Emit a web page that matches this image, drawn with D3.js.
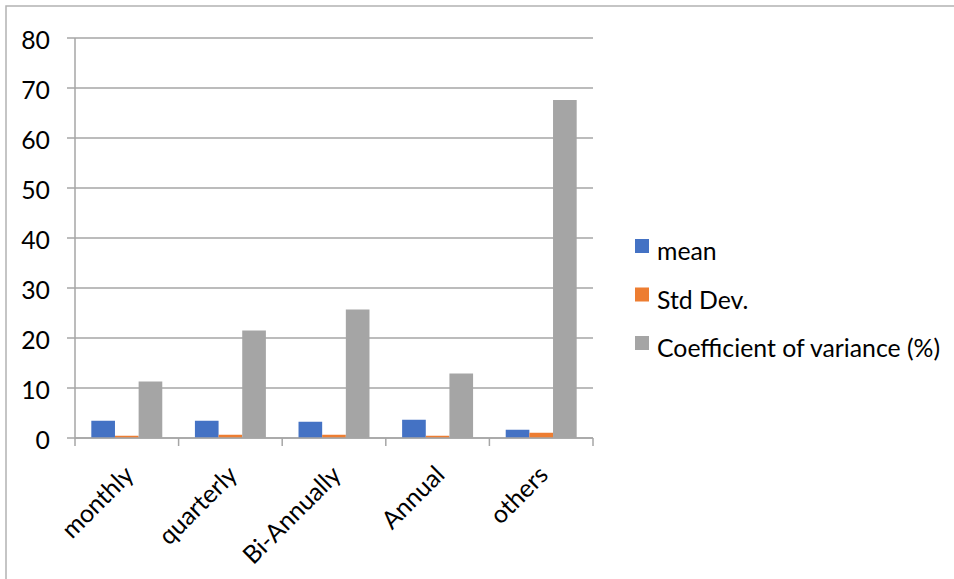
<!DOCTYPE html>
<html>
<head>
<meta charset="utf-8">
<script src="https://cdn.jsdelivr.net/npm/d3@7"></script>
<style>
  html, body { margin: 0; padding: 0; background: #fff; }
  svg { display: block; }
  text { font-family: Lato, "Open Sans", sans-serif; fill: #000; }
</style>
</head>
<body>
<svg id="chart" width="954" height="579"></svg>
<script>
const categories = ["monthly", "quarterly", "Bi-Annually", "Annual", "others"];
const seriesNames = ["mean", "Std Dev.", "Coefficient of variance (%)"];
const meanValues = [3.45, 3.45, 3.25, 3.65, 1.65];
const stdDevValues = [0.45, 0.65, 0.65, 0.45, 1.05];
const covValues = [11.3, 21.5, 25.7, 12.9, 67.6];
const colors = ["#4472C4", "#ED7D31", "#A5A5A5"];
const yTicks = [0, 10, 20, 30, 40, 50, 60, 70, 80];

const seriesValues = [meanValues, stdDevValues, covValues];

const svg = d3.select("#chart");
const W = 954, H = 579;
const plot = { left: 75, right: 593, top: 38, bottom: 438 };
const fontSize = 24.8;

// Chart frame
svg.append("rect")
  .attr("x", 6).attr("y", 6)
  .attr("width", W + 20).attr("height", H + 20)
  .attr("fill", "#fff")
  .attr("stroke", "#b3b3b3")
  .attr("stroke-width", 1.5);

const x = d3.scaleBand().domain(categories).range([plot.left, plot.right]);
const y = d3.scaleLinear().domain([0, 80]).range([plot.bottom, plot.top]);

// Horizontal gridlines with tick stubs to the left of the axis
svg.append("g").selectAll("line").data(yTicks).join("line")
  .attr("x1", plot.left - 8).attr("x2", plot.right)
  .attr("y1", d => y(d)).attr("y2", d => y(d))
  .attr("stroke", "#a6a6a6").attr("stroke-width", 1.5);

// Y axis line
svg.append("line")
  .attr("x1", plot.left).attr("x2", plot.left)
  .attr("y1", plot.top).attr("y2", plot.bottom)
  .attr("stroke", "#a6a6a6").attr("stroke-width", 1.5);

// Y tick labels
svg.append("g").selectAll("text").data(yTicks).join("text")
  .attr("x", 50).attr("y", d => y(d) + 5)
  .attr("text-anchor", "end")
  .attr("dominant-baseline", "middle")
  .attr("font-size", fontSize)
  .text(d => d);

// Grouped bars
const inner = d3.scaleBand().domain(d3.range(seriesNames.length))
  .range([0, x.bandwidth()]).paddingInner(0).paddingOuter(0.69);

const groups = svg.append("g").selectAll("g").data(categories).join("g")
  .attr("transform", d => `translate(${x(d)},0)`);

groups.selectAll("rect")
  .data((c, i) => seriesValues.map((vals, s) => ({ s, v: vals[i] })))
  .join("rect")
  .attr("x", d => inner(d.s))
  .attr("width", inner.bandwidth())
  .attr("y", d => y(d.v))
  .attr("height", d => y(0) - y(d.v))
  .attr("fill", d => colors[d.s]);

// X axis line and category tick marks
svg.append("line")
  .attr("x1", plot.left).attr("x2", plot.right)
  .attr("y1", plot.bottom).attr("y2", plot.bottom)
  .attr("stroke", "#a6a6a6").attr("stroke-width", 1.5);

const boundaries = categories.map(c => x(c)).concat([plot.right]);
svg.append("g").selectAll("line").data(boundaries).join("line")
  .attr("x1", d => d).attr("x2", d => d)
  .attr("y1", plot.bottom).attr("y2", plot.bottom + 8)
  .attr("stroke", "#a6a6a6").attr("stroke-width", 1.5);

// Rotated category labels
svg.append("g").selectAll("text").data(categories).join("text")
  .attr("transform", d => `translate(${x(d) + x.bandwidth() / 2 + 4},${plot.bottom + 34}) rotate(-45)`)
  .attr("text-anchor", "end")
  .attr("dominant-baseline", "middle")
  .attr("font-size", fontSize)
  .text(d => d);

// Legend
const legend = svg.append("g").attr("transform", "translate(635,239)");
const items = legend.selectAll("g").data(seriesNames).join("g")
  .attr("transform", (d, i) => `translate(0,${i * 48.5})`);
items.append("rect").attr("width", 14).attr("height", 14)
  .attr("fill", (d, i) => colors[i]);
items.append("text").attr("x", 22).attr("y", 21)
  .attr("font-size", fontSize)
  .text(d => d);
</script>
</body>
</html>
